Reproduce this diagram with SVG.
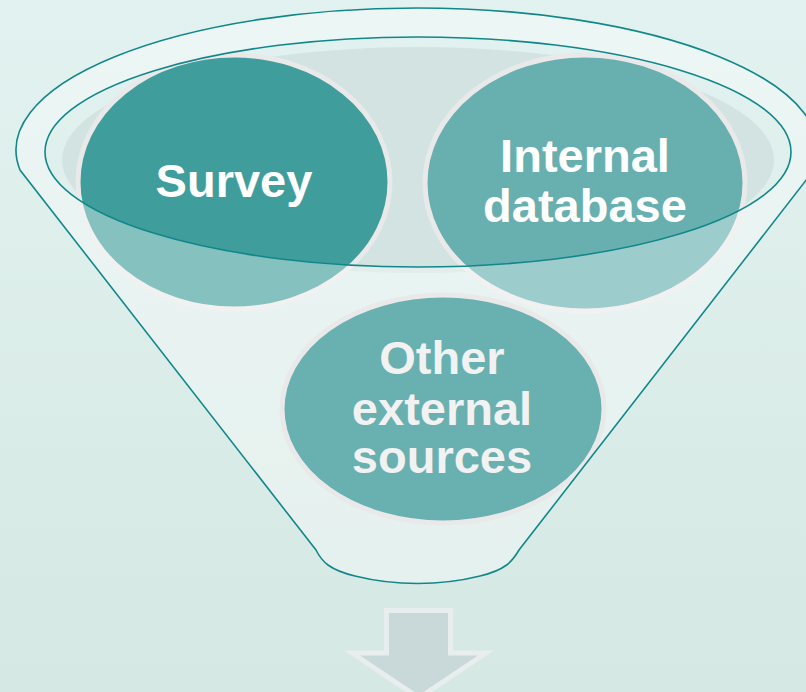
<svg xmlns="http://www.w3.org/2000/svg" width="806" height="692" viewBox="0 0 806 692">
<defs>
<linearGradient id="bg" x1="0" y1="0" x2="0" y2="1">
<stop offset="0" stop-color="#e2f2f0"/>
<stop offset="1" stop-color="#d5e8e3"/>
</linearGradient>
<style>
.lbl{font-family:"Liberation Sans",Arial,sans-serif;font-weight:bold;font-size:47px;fill:#ffffff;text-anchor:middle}
.circ{stroke:#e9e9e9;stroke-width:5}
.edge{fill:none;stroke:#12878a;stroke-width:1.6}
</style>
</defs>
<rect width="806" height="692" fill="url(#bg)"/>
<g id="funnel">
<ellipse cx="418" cy="160" rx="356" ry="113" fill="#d2e3e2"/>
</g>
<g id="survey">
<ellipse class="circ" cx="234" cy="182" rx="156" ry="127" fill="#3f9e9c"/>
<text class="lbl" x="234" y="197">Survey</text>
</g>
<g id="internal-database">
<ellipse class="circ" cx="585" cy="183" rx="160" ry="128" fill="#67b0af"/>
<text class="lbl" x="585" y="172">Internal</text>
<text class="lbl" x="585" y="222">database</text>
</g>
<g id="funnel-front">
<path d="M 20 170 A 401 142 0 1 1 814 170 L 519 550 C 512 562 505 570 480 576 C 440 586 395 586 355 576 C 330 570 322 562 316 550 Z M 45 152 A 373 115 0 1 0 791 152 A 373 115 0 1 0 45 152 Z" fill="#ffffff" fill-opacity="0.36" fill-rule="evenodd"/>
</g>
<g id="other-external-sources">
<ellipse class="circ" cx="443" cy="409" rx="161" ry="114" fill="#69b0b0"/>
<text class="lbl" x="442" y="374" style="fill:#f2f2f2">Other</text>
<text class="lbl" x="442" y="425" style="fill:#f2f2f2">external</text>
<text class="lbl" x="442" y="473" style="fill:#f2f2f2">sources</text>
</g>
<g id="connectors">
<ellipse class="edge" cx="418" cy="152" rx="373" ry="115"/>
<path class="edge" d="M 20 170 A 401 142 0 1 1 814 170 L 519 550 C 512 562 505 570 480 576 C 440 586 395 586 355 576 C 330 570 322 562 316 550 Z"/>
<path d="M 386.5 610.5 L 450.5 610.5 L 450.5 653 L 486 653 L 419 698 L 352 653 L 386.5 653 Z" fill="#c9d9d9" stroke="#e8eded" stroke-width="5"/>
</g>
</svg>
